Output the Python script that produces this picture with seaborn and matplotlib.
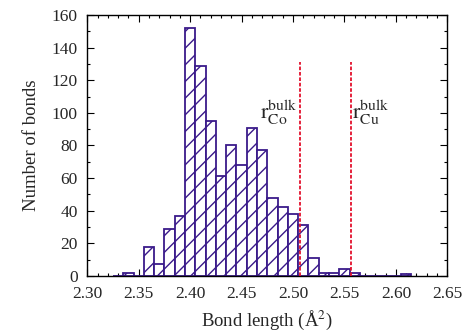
import numpy as np
import pandas as pd
import matplotlib
matplotlib.use("Agg")
import matplotlib.pyplot as plt
import seaborn as sns
from matplotlib.ticker import MultipleLocator

# ---- data ----
bin_centers = [2.33, 2.34, 2.35, 2.36, 2.37, 2.38, 2.39, 2.40, 2.41, 2.42,
               2.43, 2.44, 2.45, 2.46, 2.47, 2.48, 2.49, 2.50, 2.51, 2.52,
               2.53, 2.54, 2.55, 2.56, 2.57, 2.58, 2.59, 2.60, 2.61]
bond_counts = [0, 2, 0, 18, 7, 29, 37, 152, 129, 95,
               61, 80, 68, 91, 77, 48, 42, 38, 31, 11,
               2, 2, 4, 2, 0, 0, 0, 0, 1]
bulk_labels = [r"$\mathrm{r}^{\mathrm{bulk}}_{\mathrm{Co}}$",
               r"$\mathrm{r}^{\mathrm{bulk}}_{\mathrm{Cu}}$"]
bulk_values = [2.507, 2.556]
bulk_label_x = [2.486, 2.576]
bulk_line_top = 131
x_ticks = [2.30, 2.35, 2.40, 2.45, 2.50, 2.55, 2.60, 2.65]
y_ticks = [0, 20, 40, 60, 80, 100, 120, 140, 160]

df = pd.DataFrame({"length": bin_centers, "count": bond_counts})

sns.set_style("ticks")
plt.rcParams["font.family"] = ["Liberation Serif", "DejaVu Serif"]
plt.rcParams["mathtext.fontset"] = "stix"
plt.rcParams["hatch.color"] = "#3a1a8a"
plt.rcParams["hatch.linewidth"] = 1.0

fig = plt.figure(figsize=(4.68, 3.36), dpi=100)
ax = fig.add_axes([0.1865, 0.179, 0.7693, 0.776])

purple = "#3a1a8a"
sns.histplot(data=df, x="length", weights="count", binwidth=0.01,
             binrange=(2.325, 2.615), ax=ax, facecolor="white",
             edgecolor=purple, hatch="//", linewidth=1.3, alpha=1)

for xv in bulk_values:
    ax.vlines(xv, 0, bulk_line_top, colors="#e3102c", linestyles=(0, (2, 1)),
              linewidth=1.3, zorder=3)
for xl, lab in zip(bulk_label_x, bulk_labels):
    ax.text(xl, 100, lab, ha="center", va="center", fontsize=16)

ax.set_xlim(2.30, 2.65)
ax.set_ylim(0, 160)
ax.set_xticks(x_ticks)
ax.set_xticklabels([f"{t:.2f}" for t in x_ticks])
ax.set_yticks(y_ticks)
ax.xaxis.set_minor_locator(MultipleLocator(0.01))
ax.yaxis.set_minor_locator(MultipleLocator(10))
ax.tick_params(which="both", direction="in", top=True, right=True,
               labelsize=12.5, width=0.8, color="black")
ax.tick_params(axis="x", which="major", length=5, pad=7)
ax.tick_params(axis="y", which="major", length=5, pad=7)
ax.tick_params(which="minor", length=2.5)
for s in ax.spines.values():
    s.set_linewidth(1.0)
    s.set_color("black")

ax.set_xlabel("Bond length (Å$^2$)", fontsize=13.5, labelpad=5)
ax.set_ylabel("Number of bonds", fontsize=13.5, labelpad=8)

fig.savefig("out.png", dpi=100)
